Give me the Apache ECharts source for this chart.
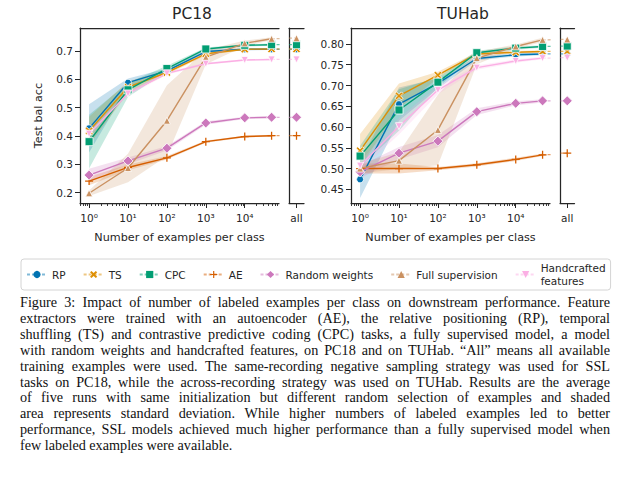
<!DOCTYPE html>
<html><head><meta charset="utf-8">
<script src="https://cdn.jsdelivr.net/npm/echarts@6/dist/echarts.min.js"></script>
<style>
html,body{margin:0;padding:0;background:#fff;width:630px;height:488px;overflow:hidden;}
#chart{position:absolute;left:0;top:0;width:630px;height:296px;}
#cap{position:absolute;left:20px;top:295px;width:590px;font-family:'Liberation Serif',serif;font-size:14.2px;line-height:15.9px;color:#111;}
#cap div{text-align:justify;text-align-last:justify;}
#cap div.last{text-align-last:left;}
</style></head><body>
<div id="chart"></div>
<div id="cap">
<div>Figure 3: Impact of number of labeled examples per class on downstream performance. Feature</div>
<div>extractors were trained with an autoencoder (AE), the relative positioning (RP), temporal</div>
<div>shuffling (TS) and contrastive predictive coding (CPC) tasks, a fully supervised model, a model</div>
<div>with random weights and handcrafted features, on PC18 and on TUHab. “All” means all available</div>
<div>training examples were used. The same-recording negative sampling strategy was used for SSL</div>
<div>tasks on PC18, while the across-recording strategy was used on TUHab. Results are the average</div>
<div>of five runs with same initialization but different random selection of examples and shaded</div>
<div>area represents standard deviation. While higher numbers of labeled examples led to better</div>
<div>performance, SSL models achieved much higher performance than a fully supervised model when</div>
<div class="last">few labeled examples were available.</div>
</div>
<script>
// ---------- data ----------
const xCounts = [1, 10, 100, 1000, 10000, 49000];
const allLabel = 'all';
const methods = ['RP', 'TS', 'CPC', 'AE', 'Random weights', 'Full supervision', 'Handcrafted features'];
const panelTitles = ['PC18', 'TUHab'];

// PC18 mean test balanced accuracy
const pc18_RP    = [0.427, 0.588, 0.630, 0.698, 0.706, 0.706];
const pc18_TS    = [0.418, 0.572, 0.624, 0.690, 0.706, 0.707];
const pc18_CPC   = [0.380, 0.563, 0.638, 0.707, 0.720, 0.722];
const pc18_AE    = [0.241, 0.289, 0.323, 0.380, 0.398, 0.401];
const pc18_Rand  = [0.262, 0.312, 0.357, 0.446, 0.464, 0.466];
const pc18_Full  = [0.198, 0.287, 0.454, 0.678, 0.727, 0.743];
const pc18_Hand  = [0.408, 0.550, 0.621, 0.655, 0.668, 0.670];
const pc18_all   = [0.706, 0.707, 0.722, 0.401, 0.466, 0.745, 0.670];
// PC18 standard deviations (shaded half-width)
const pc18_RP_sd   = [0.085, 0.015, 0.008, 0.005, 0.004, 0.003];
const pc18_TS_sd   = [0.050, 0.020, 0.008, 0.005, 0.003, 0.003];
const pc18_CPC_sd  = [0.095, 0.025, 0.010, 0.005, 0.004, 0.004];
const pc18_AE_sd   = [0.015, 0.010, 0.006, 0.004, 0.003, 0.003];
const pc18_Rand_sd = [0.022, 0.012, 0.008, 0.006, 0.004, 0.004];
const pc18_Full_sd = [0.010, 0.050, 0.125, 0.025, 0.010, 0.005];
const pc18_Hand_sd = [0.010, 0.008, 0.005, 0.004, 0.003, 0.003];

// TUHab mean test balanced accuracy
const tuh_RP    = [0.474, 0.655, 0.705, 0.765, 0.774, 0.776];
const tuh_TS    = [0.543, 0.675, 0.725, 0.776, 0.780, 0.782];
const tuh_CPC   = [0.530, 0.641, 0.708, 0.779, 0.790, 0.794];
const tuh_AE    = [0.500, 0.500, 0.500, 0.509, 0.522, 0.533];
const tuh_Rand  = [0.492, 0.537, 0.566, 0.637, 0.657, 0.663];
const tuh_Full  = [0.500, 0.519, 0.593, 0.766, 0.794, 0.810];
const tuh_Hand  = [0.507, 0.602, 0.689, 0.743, 0.759, 0.766];
const tuh_all   = [0.776, 0.782, 0.795, 0.537, 0.663, 0.811, 0.767];
const tuh_RP_sd   = [0.045, 0.040, 0.012, 0.005, 0.004, 0.003];
const tuh_TS_sd   = [0.040, 0.030, 0.008, 0.004, 0.003, 0.003];
const tuh_CPC_sd  = [0.025, 0.050, 0.012, 0.005, 0.004, 0.003];
const tuh_AE_sd   = [0.012, 0.012, 0.004, 0.004, 0.004, 0.003];
const tuh_Rand_sd = [0.015, 0.015, 0.015, 0.008, 0.005, 0.004];
const tuh_Full_sd = [0.012, 0.020, 0.085, 0.015, 0.005, 0.005];
const tuh_Hand_sd = [0.010, 0.020, 0.010, 0.005, 0.004, 0.003];

const xTickValues = [1, 10, 100, 1000, 10000];
const pc18_yTicks = [0.2, 0.3, 0.4, 0.5, 0.6, 0.7];
const tuh_yTicks = [0.45, 0.50, 0.55, 0.60, 0.65, 0.70, 0.75, 0.80];

// ---------- styles ----------
const colors = ['#0173b2', '#de8f05', '#029e73', '#d55e00', '#cc78bc', '#ca9161', '#fbafe4'];
const X_PATH = 'path://M0,2 L2,0 L5,3 L8,0 L10,2 L7,5 L10,8 L8,10 L5,7 L2,10 L0,8 L3,5 Z';
const PLUS_PATH = 'path://M4.2,0 L5.8,0 L5.8,4.2 L10,4.2 L10,5.8 L5.8,5.8 L5.8,10 L4.2,10 L4.2,5.8 L0,5.8 L0,4.2 L4.2,4.2 Z';
const symbols = ['circle', X_PATH, 'rect', PLUS_PATH, 'diamond', 'triangle', 'triangle'];
const symbolSizes = [7, 8, 8, 8, 10, 7, 7];
const symbolRot = [0, 0, 0, 0, 0, 0, 180];
const borderW = [0.8, 0.8, 0.8, 0, 0.8, 0.8, 0.8];

const TXT = '#262626';
const FONT = 'DejaVu Sans';
const SUP = ['⁰', '¹', '²', '³', '⁴', '⁵'];

const panels = [
  { means: [pc18_RP, pc18_TS, pc18_CPC, pc18_AE, pc18_Rand, pc18_Full, pc18_Hand],
    sds: [pc18_RP_sd, pc18_TS_sd, pc18_CPC_sd, pc18_AE_sd, pc18_Rand_sd, pc18_Full_sd, pc18_Hand_sd],
    alls: pc18_all, yTicks: pc18_yTicks, ymin: 0.1636, ymax: 0.781, dec: 1,
    mainLeft: 80, allLeft: 289, allWidth: 15 },
  { means: [tuh_RP, tuh_TS, tuh_CPC, tuh_AE, tuh_Rand, tuh_Full, tuh_Hand],
    sds: [tuh_RP_sd, tuh_TS_sd, tuh_CPC_sd, tuh_AE_sd, tuh_Rand_sd, tuh_Full_sd, tuh_Hand_sd],
    alls: tuh_all, yTicks: tuh_yTicks, ymin: 0.417, ymax: 0.8385, dec: 2,
    mainLeft: 351, allLeft: 560, allWidth: 14.5 }
];

const XMIN = 0.584, XMAX = 76000;
const TOP = 28, H = 175, MAINW = 199;

const minorTicks = [];
[0.1, 1, 10, 100, 1000, 10000].forEach(d => {
  for (let k = 2; k <= 9; k++) { const v = +(k * d).toPrecision(3); if (v > XMIN && v < XMAX) minorTicks.push(v); }
});

const grid = [], xAxis = [], yAxis = [], series = [];
const spine = { show: true, lineStyle: { color: TXT, width: 1.25 } };

panels.forEach((P, p) => {
  const gMain = grid.length;
  grid.push({ left: P.mainLeft, top: TOP, width: MAINW, height: H });
  const gAll = grid.length;
  grid.push({ left: P.allLeft, top: TOP, width: P.allWidth, height: H });

  const xMain = xAxis.length;
  xAxis.push({ type: 'log', gridIndex: gMain, min: XMIN, max: XMAX, position: 'bottom',
    axisLine: spine,
    axisTick: { show: true, customValues: xTickValues, length: 5, lineStyle: { color: TXT, width: 1 } },
    axisLabel: { show: true, customValues: xTickValues, margin: 9, color: TXT, fontFamily: FONT, fontSize: 10.5,
      formatter: v => '10' + SUP[Math.round(Math.log10(v))] },
    splitLine: { show: false }, minorTick: { show: false },
    name: 'Number of examples per class', nameLocation: 'middle', nameGap: 29,
    nameTextStyle: { color: TXT, fontFamily: FONT, fontSize: 11.2 } });
  xAxis.push({ type: 'log', gridIndex: gMain, min: XMIN, max: XMAX, position: 'bottom',
    axisLine: { show: false },
    axisTick: { show: true, customValues: minorTicks, length: 3, lineStyle: { color: TXT, width: 0.9 } },
    axisLabel: { show: false }, splitLine: { show: false } });
  xAxis.push({ type: 'value', gridIndex: gMain, min: 0, max: 1, position: 'top',
    axisLine: spine, axisTick: { show: false }, axisLabel: { show: false }, splitLine: { show: false } });
  const xAll = xAxis.length;
  xAxis.push({ type: 'value', gridIndex: gAll, min: 0, max: 1, position: 'bottom',
    axisLine: spine,
    axisTick: { show: true, customValues: [0.5], length: 5, lineStyle: { color: TXT, width: 1 } },
    axisLabel: { show: true, customValues: [0.5], margin: 9, color: TXT, fontFamily: FONT, fontSize: 10.5, formatter: () => allLabel },
    splitLine: { show: false } });
  xAxis.push({ type: 'value', gridIndex: gAll, min: 0, max: 1, position: 'top',
    axisLine: spine, axisTick: { show: false }, axisLabel: { show: false }, splitLine: { show: false } });

  const yMain = yAxis.length;
  yAxis.push({ type: 'value', gridIndex: gMain, min: P.ymin, max: P.ymax, position: 'left',
    axisLine: spine,
    axisTick: { show: true, customValues: P.yTicks, length: 5, lineStyle: { color: TXT, width: 1 } },
    axisLabel: { show: true, customValues: P.yTicks, margin: 7, color: TXT, fontFamily: FONT, fontSize: 10.5,
      formatter: v => v.toFixed(P.dec) },
    splitLine: { show: false },
    name: p === 0 ? 'Test bal acc' : '', nameLocation: 'middle', nameGap: 36,
    nameTextStyle: { color: TXT, fontFamily: FONT, fontSize: 11.2 } });
  const yAll = yAxis.length;
  yAxis.push({ type: 'value', gridIndex: gAll, min: P.ymin, max: P.ymax, position: 'right',
    axisLine: spine, axisTick: { show: false }, axisLabel: { show: false }, splitLine: { show: false } });

  // std bands (polygon through the axes' coordinate system)
  methods.forEach((m, i) => {
    const mean = P.means[i], sd = P.sds[i];
    series.push({ type: 'custom', name: '_band' + p + '_' + i, xAxisIndex: xMain, yAxisIndex: yMain,
      silent: true, z: 1, animation: false,
      data: xCounts.map((x, k) => [x, mean[k] - sd[k], mean[k] + sd[k]]),
      encode: { x: 0, y: [1, 2] },
      renderItem: (params, api) => {
        if (params.dataIndex !== 0) return null;
        const up = xCounts.map((x, k) => api.coord([x, mean[k] + sd[k]]));
        const lo = xCounts.map((x, k) => api.coord([x, mean[k] - sd[k]])).reverse();
        return { type: 'polygon', shape: { points: up.concat(lo) },
          style: { fill: colors[i], opacity: 0.22 } };
      } });
  });
  // lines
  methods.forEach((m, i) => {
    const mean = P.means[i];
    const last = xCounts.length - 1;
    series.push({ type: 'line', name: '_dash' + p + i, xAxisIndex: xMain, yAxisIndex: yMain,
      data: [[xCounts[last], mean[last]], [1e6, P.alls[i]]], symbol: 'none', clip: true, silent: true,
      lineStyle: { color: colors[i], width: 1.3, type: [3, 2], opacity: 0.6 }, z: 2, animation: false });
    series.push({ type: 'line', name: m, xAxisIndex: xMain, yAxisIndex: yMain,
      data: xCounts.map((x, k) => [x, mean[k]]),
      symbol: symbols[i], symbolSize: symbolSizes[i], symbolRotate: symbolRot[i], showAllSymbol: true,
      itemStyle: { color: colors[i], borderColor: '#fff', borderWidth: borderW[i], opacity: 1 },
      lineStyle: { color: colors[i], width: 1.4 }, z: 3, clip: false, animation: false });
    series.push({ type: 'line', name: '_all' + p + i, xAxisIndex: xAll, yAxisIndex: yAll,
      data: [{ value: [-1, P.alls[i]], symbol: 'none' }, [0.5, P.alls[i]]],
      symbol: symbols[i], symbolSize: symbolSizes[i], symbolRotate: symbolRot[i], showAllSymbol: true,
      itemStyle: { color: colors[i], borderColor: '#fff', borderWidth: borderW[i] },
      lineStyle: { color: colors[i], width: 1.3, type: [3, 2], opacity: 0.6 }, z: 3, clip: true, animation: false });
  });
});

const chart = echarts.init(document.getElementById('chart'), null, { renderer: 'svg', width: 630, height: 296 });
chart.setOption({
  animation: false,
  backgroundColor: '#fff',
  textStyle: { fontFamily: FONT },
  grid, xAxis, yAxis, series,
  legend: {
    data: methods, left: 21, top: 259, orient: 'horizontal',
    itemWidth: 20, itemHeight: 9, itemGap: 17, padding: [3, 5],
    backgroundColor: '#fff', borderColor: '#d4d4d4', borderWidth: 1, borderRadius: 3,
    selectedMode: false,
    textStyle: { fontFamily: FONT, fontSize: 10.5, color: TXT, lineHeight: 12.5 },
    itemStyle: { borderWidth: 0 },
    lineStyle: { opacity: 0.5, type: [3, 2] },
    formatter: n => n === 'Handcrafted features' ? 'Handcrafted\nfeatures' : n
  },
  graphic: [
    { type: 'text', x: 192, y: 14, style: { text: panelTitles[0], align: 'center', verticalAlign: 'middle', fontFamily: FONT, fontSize: 15.5, fill: TXT } },
    { type: 'text', x: 463, y: 14, style: { text: panelTitles[1], align: 'center', verticalAlign: 'middle', fontFamily: FONT, fontSize: 15.5, fill: TXT } }
  ]
});
</script>
</body></html>
